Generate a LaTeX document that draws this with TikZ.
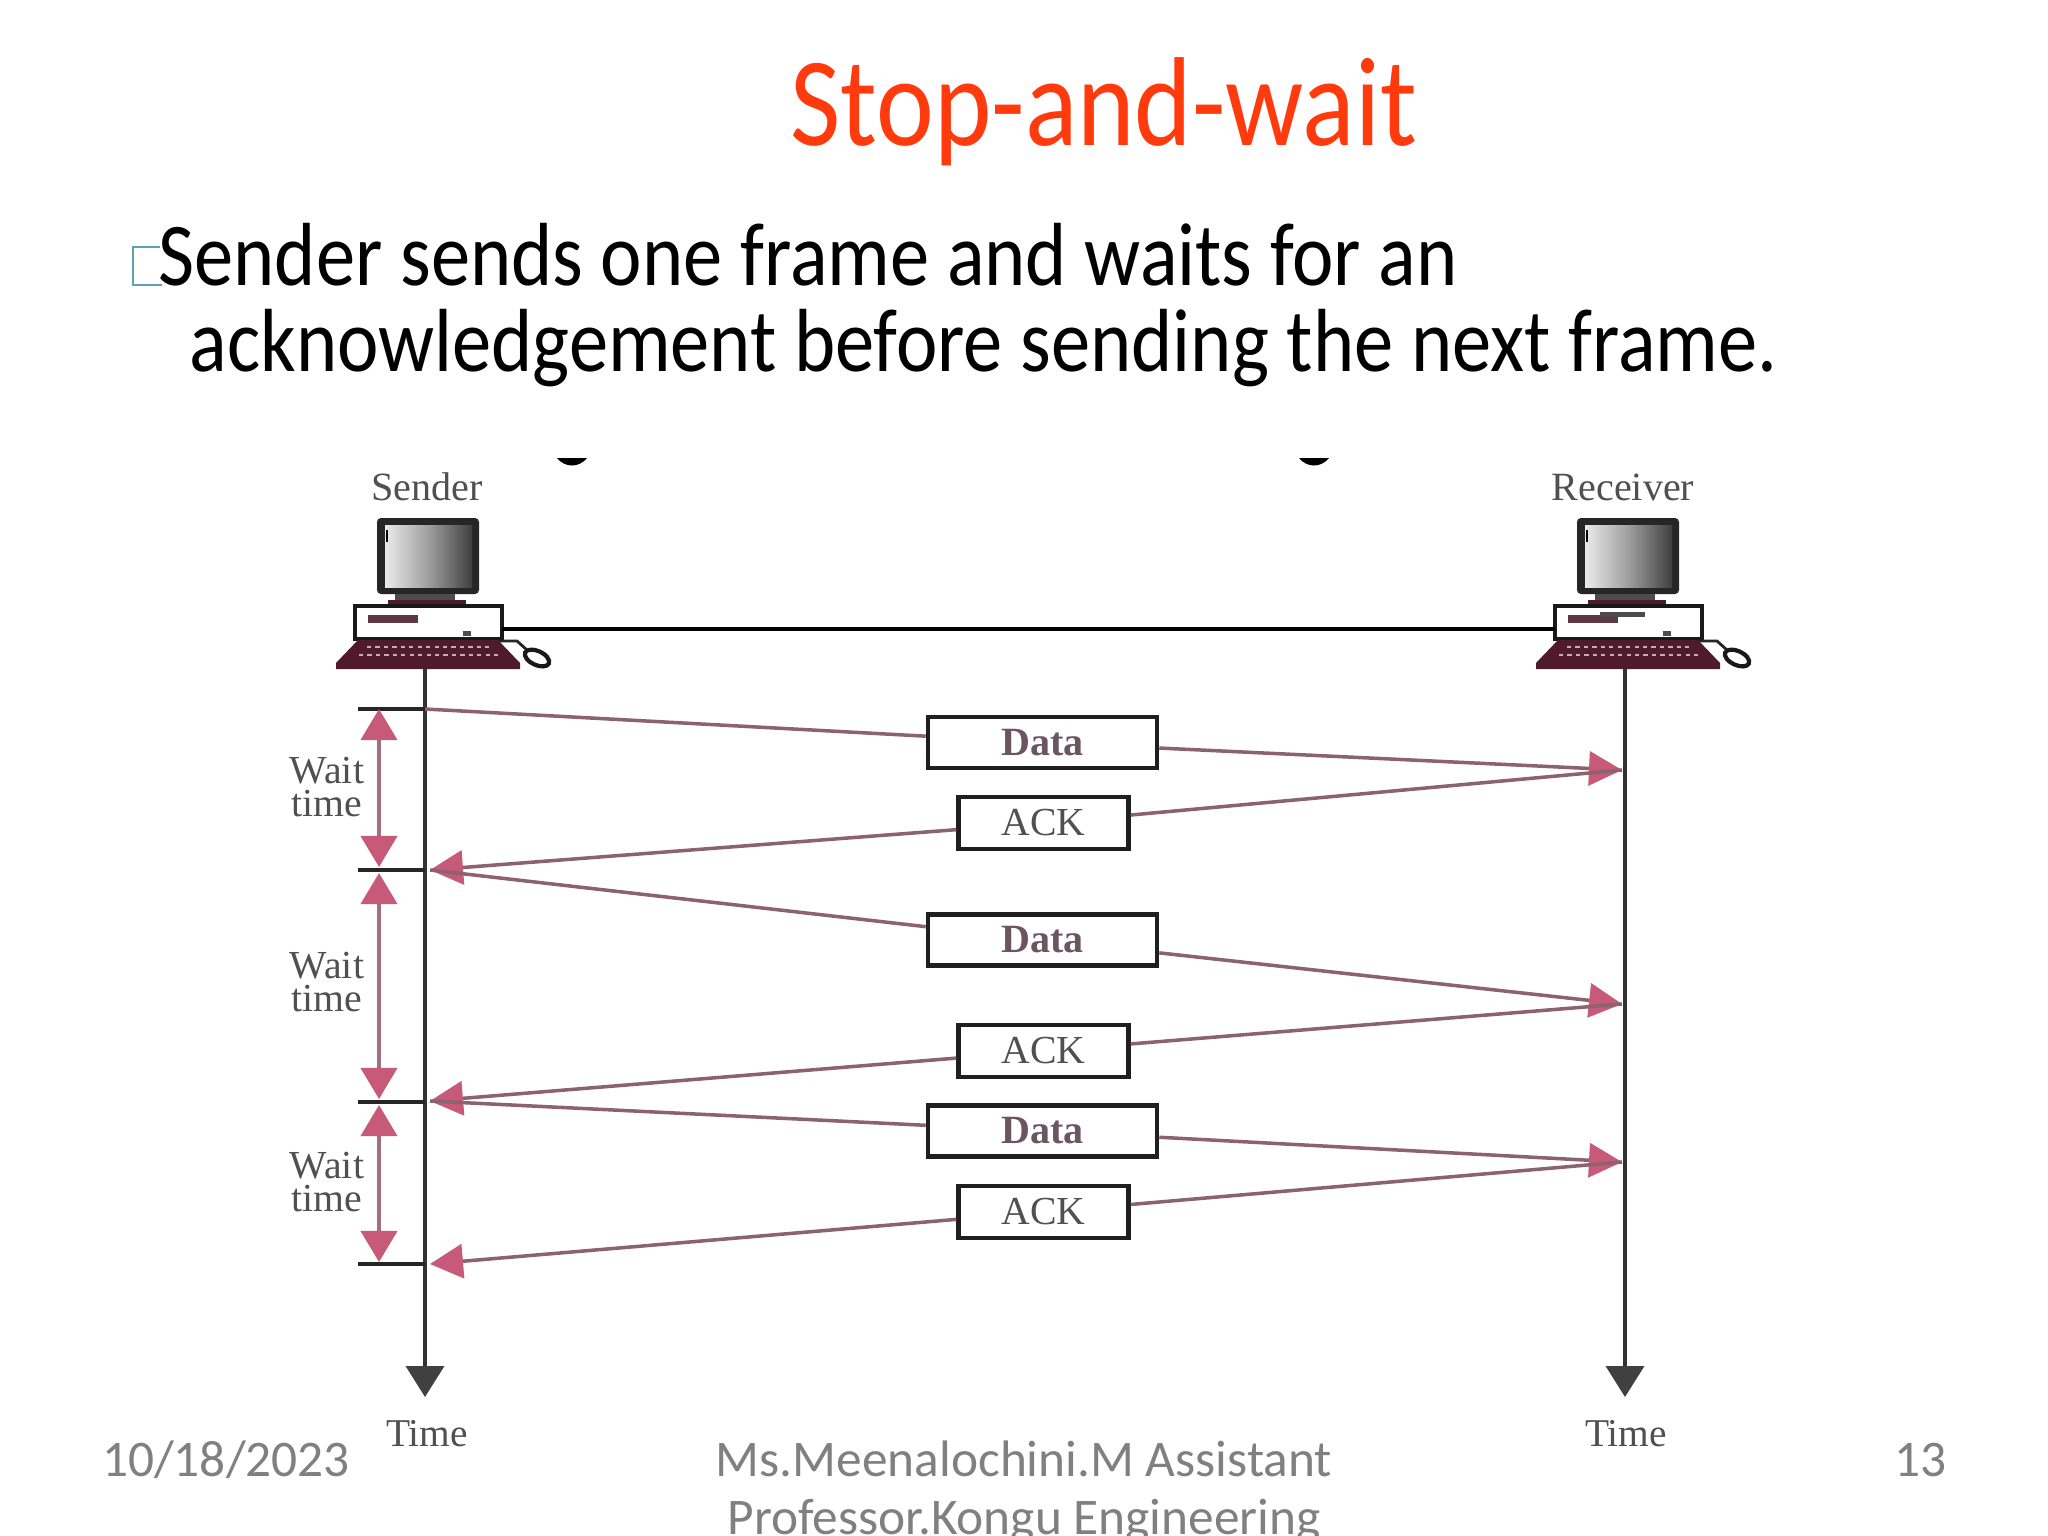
\documentclass[tikz,border=0pt]{standalone}
\usepackage{fontspec}
\usetikzlibrary{arrows.meta,calc}
\setmainfont{Liberation Serif}
\newfontfamily\titlefont[FakeStretch=0.864]{Carlito}
\newfontfamily\twfont[FakeStretch=0.875]{Carlito}
\newfontfamily\footfont{Carlito}
\definecolor{headpink}{HTML}{C65A78}
\definecolor{linkgrey}{HTML}{8C6270}
\definecolor{shaftgrey}{HTML}{A0707F}
\definecolor{maroon}{HTML}{4E1A2C}
\definecolor{inktext}{HTML}{505050}
\definecolor{datatext}{HTML}{6B5560}
\definecolor{bullet}{HTML}{5F9FB2}
\tikzset{
  link/.style={draw=linkgrey,line width=1pt},
  linkto/.style={link,-{Triangle[length=3.3mm,width=3.4mm,color=headpink,fill=headpink]}},
  waitarrow/.style={draw=shaftgrey,line width=1.1pt,{Triangle[length=3.1mm,width=3.6mm,color=headpink,fill=headpink]}-{Triangle[length=3.1mm,width=3.6mm,color=headpink,fill=headpink]}},
  msgbox/.style={draw=black!88,line width=1.25pt,fill=white,inner sep=0pt,font=\fontsize{11.3}{12}\selectfont,text=inktext},
  databox/.style={msgbox,minimum width=2.29cm,minimum height=0.51cm,font=\fontsize{11.4}{12}\selectfont\bfseries,text=datatext},
  ackbox/.style={msgbox,minimum width=1.70cm,minimum height=0.52cm},
  timeline/.style={draw=black!80,line width=1.05pt,-{Triangle[length=3.1mm,width=3.8mm,color=black!75,fill=black!75]}},
  tick/.style={draw=black!85,line width=1.1pt},
  difflabel/.style={text=inktext,font=\fontsize{11.3}{9.4}\selectfont,align=center,inner sep=0pt},
  body/.style={font=\twfont\fontsize{25.5}{27}\selectfont,text=black,anchor=base west,inner sep=0pt},
  foot/.style={font=\footfont\fontsize{14.6}{16.5}\selectfont,text=black!50,inner sep=0pt,anchor=base},
  computer/.pic={
    \fill[black!85,rounded corners=0.04cm] (-48,-82) rectangle (54,-6);
    \shade[left color=black!8,right color=black!75,middle color=black!38] (-40,-75) rectangle (47,-13);
    \draw[black,line width=0.8pt] (-38,-70) -- (-38,-58);
    \fill[black!70] (-30,-6) rectangle (30,0);
    \fill[maroon] (-37,0) rectangle (41,6);
    \node[draw=black!90,line width=1.2pt,fill=white,minimum width=1.47cm,minimum height=0.33cm,inner sep=0pt] (-case) at (3.5,22.5) {};
    \fill[maroon!70!gray] (-57,15) rectangle (-7,23);
    \fill[black!70] (38,31) rectangle (46,36);
    \fill[maroon] (-67,40) -- (73,40) -- (95,63) -- (95,69) -- (-89,69) -- (-89,63) -- cycle;
    \draw[white!65!maroon,line width=0.7pt,dash pattern=on 1.2pt off 1.2pt] (-58,47) -- (68,47);
    \draw[white!65!maroon,line width=0.7pt,dash pattern=on 1.2pt off 1.2pt] (-66,55) -- (76,55);
    \draw[black!85,line width=0.8pt] (73,41) -- (92,41) -- (102,50);
    \draw[black!90,line width=1.2pt,fill=white] (112,58) ellipse [x radius=0.13cm,y radius=0.07cm,rotate=-25];
    \coordinate (-kb) at (0,69);
    \coordinate (-portE) at (77,29);
    \coordinate (-portW) at (-70,29);
  }
}
\begin{document}
\begin{tikzpicture}[x=0.01cm,y=-0.01cm]
\useasboundingbox (0,0) rectangle (2048,1536);
\clip (0,0) rectangle (2048,1536);
\fill[white] (0,0) rectangle (2048,1536);

% heading
\node[font=\titlefont\fontsize{36}{38}\selectfont,text={rgb,255:red,255;green,58;blue,12},anchor=base west,inner sep=0pt] (title) at (790,145) {Stop-and-wait};
\draw[bullet,line width=0.45pt] (160,247) -- (133,247) -- (133,285) -- (162,285);
\node[body] (line1) at (158,285) {Sender sends one frame and waits for an};
\node[body] (line2) at (189,371) {acknowledgement before sending the next frame.};

% remnants cut off at the top of the pasted figure
\fill[black] (557,458) .. controls (565,468) and (579,468) .. (587,458) -- cycle;
\fill[black] (1299,458) .. controls (1307,468) and (1321,468) .. (1329,458) -- cycle;

% computers
\pic (snd) at (425,600) {computer};
\pic (rcv) at (1625,600) {computer};
\fill[black!70] (1600,612) rectangle (1645,617);
\node[text=inktext,font=\fontsize{11.4}{12}\selectfont,inner sep=0pt] (sendlabel) at (427,487) {Sender};
\node[text=inktext,font=\fontsize{11.4}{12}\selectfont,inner sep=0pt] (recvlabel) at (1623,487) {Receiver};
\draw[black,line width=1.4pt] (snd-portE) -- (rcv-portW);

% time axes
\coordinate (sndend) at (425,1397);
\coordinate (rcvend) at (1625,1397);
\draw[timeline] (snd-kb) -- (sndend);
\draw[timeline] (rcv-kb) -- (rcvend);
\node[text=inktext,font=\fontsize{11.2}{12}\selectfont,inner sep=0pt] (sndtime) at (427,1434) {Time};
\node[text=inktext,font=\fontsize{11.2}{12}\selectfont,inner sep=0pt] (rcvtime) at (1626,1434) {Time};

% anchors
\coordinate (s1) at (425,709);
\coordinate (s2) at (430,870);
\coordinate (s3) at (430,1101);
\coordinate (s4) at (430,1264);
\coordinate (r1) at (1622,770);
\coordinate (r2) at (1622,1004);
\coordinate (r3) at (1622,1162);
\coordinate (k1) at (358,709);
\coordinate (k2) at (358,870);
\coordinate (k3) at (358,1102);
\coordinate (k4) at (358,1264);
\coordinate (w1) at (379,709);
\coordinate (w2) at (379,867);
\coordinate (w3) at (379,873);
\coordinate (w4) at (379,1099);
\coordinate (w5) at (379,1105);
\coordinate (w6) at (379,1262);

% message boxes
\node[databox] (d1) at (1042.5,742.5) {Data};
\node[ackbox]  (a1) at (1043.5,823) {ACK};
\node[databox] (d2) at (1042.5,940) {Data};
\node[ackbox]  (a2) at (1043.5,1051) {ACK};
\node[databox] (d3) at (1042.5,1131) {Data};
\node[ackbox]  (a3) at (1043.5,1212) {ACK};

% messages
\draw[link] (s1) -- (d1);
\draw[linkto] (d1) -- (r1);
\draw[link] (r1) -- (a1);
\draw[linkto] (a1) -- (s2);
\draw[link] (s2) -- (d2);
\draw[linkto] (d2) -- (r2);
\draw[link] (r2) -- (a2);
\draw[linkto] (a2) -- (s3);
\draw[link] (s3) -- (d3);
\draw[linkto] (d3) -- (r3);
\draw[link] (r3) -- (a3);
\draw[linkto] (a3) -- (s4);

% wait intervals
\draw[tick] (k1) -- (s1);
\draw[tick] (k2) -- (425,870);
\draw[tick] (k3) -- (425,1102);
\draw[tick] (k4) -- (425,1264);
\draw[waitarrow] (w1) -- (w2);
\draw[waitarrow] (w3) -- (w4);
\draw[waitarrow] (w5) -- (w6);
\node[difflabel] (wait1) at (327,787) {Wait\\time};
\node[difflabel] (wait2) at (327,982) {Wait\\time};
\node[difflabel] (wait3) at (327,1182) {Wait\\time};

% footer
\node[foot] (date) at (226,1476) {10/18/2023};
\node[foot] (author1) at (1024,1476) {Ms.Meenalochini.M Assistant};
\node[foot] (author2) at (1024,1534) {Professor.Kongu Engineering};
\node[foot] (page) at (1920,1476) {13};
\end{tikzpicture}
\end{document}
